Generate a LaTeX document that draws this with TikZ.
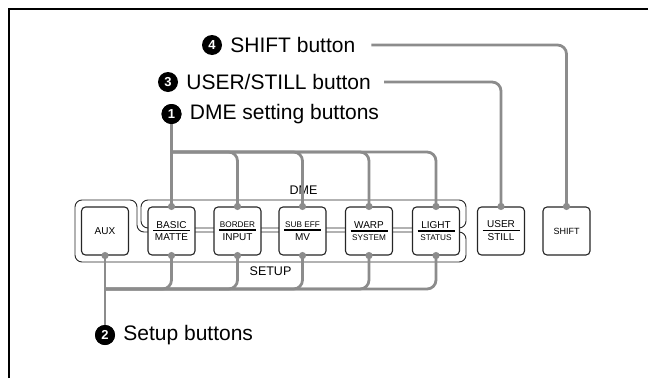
\documentclass[tikz,border=0pt]{standalone}
\usepackage{fontspec}
\setmainfont{Liberation Sans}
\usetikzlibrary{positioning}

% top word, rule, bottom word of a key cap
\newcommand{\keycap}[2]{\vbox{\hbox to 37pt{\hss #1\hss}\kern1.5pt
\hrule height 1.8pt\kern2.6pt\hbox to 37pt{\hss #2\hss}}}
\newcommand{\smtxt}{\fontsize{8.2}{9}\selectfont}

\begin{document}
\begin{tikzpicture}[x=1pt,y=-1pt]
\tikzstyle{button} = [rectangle, draw=black!85, line width=1.1pt, fill=white,
rounded corners=4pt, minimum width=47pt, minimum height=48pt, inner sep=0pt,
font=\fontsize{10}{12}\selectfont]
\tikzstyle{frame} = [draw=black!85, line width=0.9pt, rounded corners=7pt]
\tikzstyle{feed} = [draw=black!45, line width=2.8pt, rounded corners=9pt]
\tikzstyle{num} = [circle, fill=black, text=white, minimum size=20pt,
inner sep=0pt, font=\bfseries\fontsize{13}{13}\selectfont]
\tikzstyle{callout} = [inner sep=0pt, font=\fontsize{21}{24}\selectfont]
\tikzstyle{group} = [inner sep=0pt, font=\fontsize{12.5}{14}\selectfont]

\useasboundingbox (0,0) rectangle (648,378);
\draw[line width=2pt] (9,378) -- (9,9) -- (648,9);

% DME and SETUP frames
\path[frame] (141,228) -- (141,200) -- (466,200) -- (466,228) -- cycle;
\path[frame] (137,232) -- (137,200) -- (75,200) -- (75,262) -- (466,262)
-- (466,232) -- cycle;
\node[group] (dme) at (303.5,190) {DME};
\node[group] (setup) at (270.5,271) {SETUP};

% callouts
\node[num] (n4) at (212,45) {4};
\node[callout, right=8pt of n4] (shifttxt) {SHIFT button};
\node[num] (n3) at (168,82) {3};
\node[callout, right=8pt of n3] (usertxt) {USER/STILL button};
\node[num] (n1) at (171.5,114) {1};
\node[callout, right=8pt of n1] (dmetxt) {DME setting buttons};
\node[num] (n2) at (105,335) {2};
\node[callout, right=8pt of n2] (setuptxt) {Setup buttons};

% buttons
\node[button] (aux) at (105,231) {AUX};
\node[button] (basic) at (171.5,231) {\keycap{BASIC}{MATTE}};
\node[button] (border) at (237.5,231) {\keycap{\smtxt BORDER}{INPUT}};
\node[button] (subeff) at (302.5,231) {\keycap{\smtxt SUB EFF}{MV}};
\node[button] (warp) at (369,231) {\keycap{WARP}{\smtxt SYSTEM}};
\node[button] (light) at (436,231) {\keycap{LIGHT}{\smtxt STATUS}};
\node[button] (user) at (501,231) {\keycap{USER}{STILL}};
\node[button] (shift) at (566.5,231) {\fontsize{9}{10}\selectfont SHIFT};

% connectors
\coordinate (dmebus) at (171.5,152);
\coordinate (setupbus) at (105,289);
\draw[feed] (n1) -- (basic.north);
\foreach \b in {border,subeff,warp,light}
  \draw[feed] (dmebus) -| (\b.north);
\draw[feed] (aux.south) -- (n2);
\foreach \b in {basic,border,subeff,warp,light}
  \draw[feed] (setupbus) -| (\b.south);
\draw[feed] ([xshift=16pt]shifttxt.east) -| (shift.north);
\draw[feed] ([xshift=13pt]usertxt.east) -| (user.north);
\node[num] at (n1) {1};
\node[num] at (n2) {2};

% dots
\foreach \b in {basic,border,subeff,warp,light,user,shift}
  \fill[black!45] (\b.north) circle (3.6pt);
\foreach \b in {aux,basic,border,subeff,warp,light}
  \fill[black!45] (\b.south) circle (3.6pt);
\end{tikzpicture}
\end{document}
